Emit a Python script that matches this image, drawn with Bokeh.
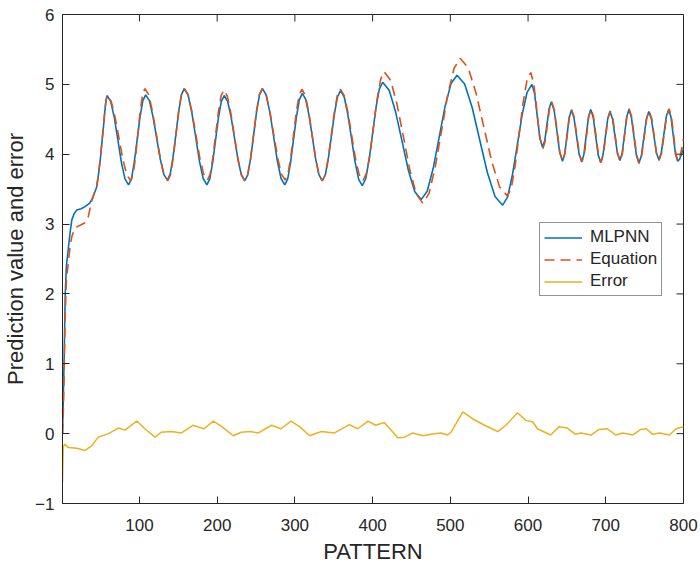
import math
from bokeh.plotting import figure
from bokeh.models import Range1d, FixedTicker, Legend, LegendItem
from bokeh.embed import file_html
from bokeh.resources import INLINE

# ---- data ----
mlpnn_x = [1, 2, 3, 4.5, 6, 8.5, 11, 13, 16, 19.5, 25, 30, 36, 40, 45, 47, 49.5, 51.5, 53.7, 55.5, 57, 58.5,
           63.1, 67.7, 72.3, 76.8, 81.4, 86,
           89.7, 93.3, 97, 100.7, 104.3, 108,
           112.7, 117.3, 122, 126.7, 131.3, 136,
           139.6, 143.2, 146.9, 150.5, 154.1, 157.7,
           162.6, 167.4, 172.3, 177.1, 182, 186.8,
           190.5, 194.2, 197.9, 201.6, 205.3, 209,
           213.4, 217.9, 222.3, 226.7, 231.2, 235.6,
           239.4, 243.2, 247, 250.7, 254.5, 258.3,
           263.1, 267.9, 272.7, 277.4, 282.2, 287,
           290.8, 294.5, 298.3, 302.1, 305.8, 309.6,
           313.9, 318.2, 322.5, 326.7, 331, 335.3,
           339.2, 343.1, 347.1, 351, 354.9, 358.8,
           363.5, 368.1, 372.8, 377.4, 382.1, 386.7,
           391.1, 395.5, 399.9, 404.2, 408.6, 413,
           421.3, 429.5, 437.8, 446, 454.3, 462.5,
           470.2, 477.9, 485.6, 493.2, 500.9, 508.6,
           518.4, 528.2, 537.9, 547.7, 557.5, 567.3,
           573.6, 579.9, 586.2, 592.4, 598.7, 605,
           608.4, 611.8, 615.2, 618.6, 621.5, 624.3, 627.2, 630,
           633.6, 637.2, 640.7, 644.3, 647.2, 650.1, 652.9, 655.8,
           659.1, 662.4, 665.7, 669, 671.9, 674.8, 677.7, 680.6,
           683.8, 687, 690.2, 693.4, 696.4, 699.4, 702.4, 705.4,
           708.6, 711.8, 715, 718.2, 721.1, 724, 726.9, 729.8,
           733, 736.2, 739.4, 742.6, 745.8, 749, 752.2, 755.4,
           758.6, 761.9, 765.1, 768.3, 771.5, 774.7, 777.8, 781,
           783.9, 786.8, 789.6, 792.5, 795, 797.5, 800]
mlpnn_y = [0.0, 0.5, 1.0, 2.0, 2.4, 2.65, 2.9, 3.06, 3.15, 3.2, 3.22, 3.25, 3.3, 3.38, 3.53, 3.68, 3.91, 4.14, 4.39, 4.62, 4.77, 4.84,
           4.754, 4.52, 4.20, 3.88, 3.646, 3.56,
           3.646, 3.883, 4.205, 4.528, 4.764, 4.85,
           4.768, 4.545, 4.24, 3.935, 3.712, 3.63,
           3.718, 3.958, 4.285, 4.613, 4.852, 4.94,
           4.848, 4.595, 4.25, 3.905, 3.652, 3.56,
           3.646, 3.88, 4.20, 4.52, 4.754, 4.84,
           4.758, 4.535, 4.23, 3.925, 3.702, 3.62,
           3.708, 3.95, 4.28, 4.61, 4.852, 4.94,
           4.848, 4.595, 4.25, 3.905, 3.652, 3.56,
           3.648, 3.888, 4.215, 4.543, 4.782, 4.87,
           4.786, 4.558, 4.245, 3.933, 3.704, 3.62,
           3.706, 3.943, 4.265, 4.588, 4.824, 4.91,
           4.819, 4.57, 4.23, 3.89, 3.641, 3.55,
           3.649, 3.92, 4.29, 4.66, 4.931, 5.03,
           4.917, 4.61, 4.19, 3.77, 3.463, 3.35,
           3.469, 3.795, 4.24, 4.685, 5.011, 5.13,
           5.005, 4.665, 4.20, 3.735, 3.395, 3.27,
           3.386, 3.703, 4.135, 4.568, 4.884, 5.0,
           4.869, 4.55, 4.231, 4.10, 4.195, 4.425, 4.655, 4.75,
           4.626, 4.325, 4.024, 3.90, 4.007, 4.265, 4.523, 4.63,
           4.522, 4.26, 3.998, 3.89, 4.0, 4.265, 4.53, 4.64,
           4.529, 4.26, 3.991, 3.88, 3.987, 4.245, 4.503, 4.61,
           4.508, 4.26, 4.012, 3.91, 4.017, 4.275, 4.533, 4.64,
           4.528, 4.255, 3.982, 3.87, 3.978, 4.24, 4.502, 4.61,
           4.509, 4.265, 4.021, 3.92, 4.025, 4.28, 4.535, 4.64,
           4.532, 4.27, 4.008, 3.90, 3.93, 4.0, 4.08]

equation_x = [1, 2, 3, 4.5, 6, 8.5, 11, 13, 16, 19.5, 25, 30, 34, 38.8, 42, 45, 47, 49.5, 51.5, 53.7, 55.5, 57, 58.5,
              63.6, 68.6, 73.7, 78.7, 83.8, 88.8,
              91.8, 94.9, 97.9, 100.9, 104, 107,
              111.9, 116.8, 121.8, 126.7, 131.6, 136.5,
              140, 143.5, 147, 150.5, 154, 157.5,
              162.5, 167.5, 172.5, 177.5, 182.5, 187.5,
              191, 194.5, 198, 201.5, 205, 208.5,
              213, 217.5, 222.1, 226.6, 231.1, 235.6,
              239.3, 243.1, 246.8, 250.5, 254.3, 258,
              262.9, 267.8, 272.8, 277.7, 282.6, 287.5,
              291.1, 294.7, 298.3, 301.8, 305.4, 309,
              313.4, 317.8, 322.2, 326.5, 330.9, 335.3,
              339.2, 343, 346.9, 350.8, 354.6, 358.5,
              363.3, 368.2, 373, 377.8, 382.7, 387.5,
              392.1, 396.7, 401.3, 405.8, 410.4, 415,
              423.3, 431.5, 439.8, 448, 456.3, 464.5,
              472.6, 480.6, 488.7, 496.7, 504.8, 512.8,
              522.9, 533, 543.2, 553.3, 563.4, 573.5,
              578.5, 583.5, 588.5, 593.5, 598.5, 603.5,
              607.4, 611.3, 615.1, 619, 621.9, 624.8, 627.6, 630.5,
              634, 637.5, 641, 644.5, 647.4, 650.3, 653.1, 656,
              659.4, 662.8, 666.1, 669.5, 672.4, 675.3, 678.1, 681,
              684.2, 687.4, 690.6, 693.8, 696.8, 699.8, 702.8, 705.8,
              709, 712.2, 715.3, 718.5, 721.4, 724.3, 727.1, 730,
              733.3, 736.5, 739.8, 743, 746.2, 749.4, 752.6, 755.8,
              759, 762.2, 765.3, 768.5, 771.8, 775, 778.3, 781.5,
              784.4, 787.3, 790.1, 793, 795.5, 798, 800]
equation_y = [0.0, 0.3, 0.8, 1.7, 2.2, 2.45, 2.7, 2.82, 2.92, 2.96, 2.99, 3.02, 3.1, 3.34, 3.45, 3.55, 3.69, 3.93, 4.15, 4.4, 4.62, 4.77, 4.84,
              4.758, 4.535, 4.23, 3.925, 3.702, 3.62,
              3.708, 3.95, 4.28, 4.61, 4.852, 4.94,
              4.852, 4.61, 4.28, 3.95, 3.708, 3.62,
              3.708, 3.95, 4.28, 4.61, 4.852, 4.94,
              4.852, 4.613, 4.285, 3.958, 3.718, 3.63,
              3.716, 3.953, 4.275, 4.598, 4.834, 4.92,
              4.833, 4.595, 4.27, 3.945, 3.707, 3.62,
              3.708, 3.95, 4.28, 4.61, 4.852, 4.94,
              4.852, 4.613, 4.285, 3.958, 3.718, 3.63,
              3.717, 3.955, 4.28, 4.605, 4.843, 4.93,
              4.842, 4.603, 4.275, 3.948, 3.708, 3.62,
              3.708, 3.948, 4.275, 4.603, 4.842, 4.93,
              4.842, 4.603, 4.275, 3.948, 3.708, 3.62,
              3.725, 4.01, 4.40, 4.79, 5.076, 5.18,
              5.054, 4.71, 4.24, 3.77, 3.426, 3.30,
              3.439, 3.818, 4.335, 4.853, 5.231, 5.37,
              5.238, 4.878, 4.385, 3.893, 3.532, 3.40,
              3.519, 3.843, 4.285, 4.728, 5.051, 5.17,
              5.011, 4.625, 4.239, 4.08, 4.178, 4.415, 4.652, 4.75,
              4.626, 4.325, 4.024, 3.90, 4.008, 4.27, 4.532, 4.64,
              4.53, 4.265, 4.0, 3.89, 4.001, 4.27, 4.539, 4.65,
              4.538, 4.265, 3.992, 3.88, 3.988, 4.25, 4.512, 4.62,
              4.515, 4.26, 4.005, 3.90, 4.01, 4.275, 4.54, 4.65,
              4.536, 4.26, 3.984, 3.87, 3.98, 4.245, 4.51, 4.62,
              4.516, 4.265, 4.014, 3.91, 4.018, 4.28, 4.542, 4.65,
              4.54, 4.275, 4.01, 3.90, 3.96, 4.10, 4.22]

error_x = [1, 2, 4, 8.6, 19.5, 30, 38.8, 47, 60, 73, 81.5, 96.5, 107, 120, 128, 141, 154, 169, 183,
           195, 206, 220.6, 231, 242, 253, 270, 282, 295, 306, 319, 334, 351, 370, 381, 394, 404,
           415, 432.5, 441, 451.7, 464.5, 479, 488, 496.7, 501, 516, 529, 544, 561, 571.5, 586.5,
           597, 606, 612, 629, 640, 650.5, 661, 668, 681, 691.5, 702, 713, 721.7, 734.5, 745, 752,
           760.5, 769, 782, 790.5, 800]
error_y = [-0.70, -0.19, -0.15, -0.20, -0.21, -0.24, -0.17, -0.05, 0.0, 0.08, 0.05, 0.18, 0.07, -0.05, 0.02, 0.03, 0.01, 0.12, 0.07,
           0.18, 0.10, -0.03, 0.02, 0.03, 0.01, 0.12, 0.07, 0.18, 0.10, -0.03, 0.03, 0.01, 0.13, 0.07, 0.18, 0.12,
           0.16, -0.06, -0.05, 0.01, -0.03, 0.0, 0.01, -0.02, 0.02, 0.31, 0.21, 0.12, 0.03, 0.12, 0.30,
           0.19, 0.17, 0.07, -0.02, 0.10, 0.08, -0.01, 0.01, -0.02, 0.06, 0.07, -0.02, 0.01, -0.02, 0.06, 0.07,
           -0.01, 0.01, -0.02, 0.07, 0.10]

x_ticks = [100, 200, 300, 400, 500, 600, 700, 800]
y_ticks = [-1, 0, 1, 2, 3, 4, 5, 6]

FONT = "Liberation Sans"
DARK = "#262626"
X0, X1, Y0, Y1 = 1, 800, -1, 6

p = figure(width=700, height=567, x_range=Range1d(X0, X1), y_range=Range1d(Y0, Y1),
           output_backend="svg", toolbar_location=None,
           min_border_left=61, min_border_right=17, min_border_top=14, min_border_bottom=64)
p.xgrid.visible = False
p.ygrid.visible = False
p.outline_line_color = DARK
p.outline_line_width = 1
p.background_fill_color = "white"
p.border_fill_color = "white"

r1 = p.line(mlpnn_x, mlpnn_y, line_color="#0072BD", line_width=1.6)
r2 = p.line(equation_x, equation_y, line_color="#D95319", line_width=1.6, line_dash="10 6")
r3 = p.line(error_x, error_y, line_color="#EDB120", line_width=1.5)

# inward ticks on the top and right edges of the box
p.ray(x=x_ticks, y=[Y1] * len(x_ticks), length=7, length_units="screen",
      angle=-math.pi / 2, line_color=DARK, line_width=1)
p.ray(x=[X1] * len(y_ticks), y=y_ticks, length=7, length_units="screen",
      angle=math.pi, line_color=DARK, line_width=1)

for ax, ticks in ((p.xaxis[0], x_ticks), (p.yaxis[0], y_ticks)):
    ax.ticker = FixedTicker(ticks=ticks)
    ax.major_tick_in = 7
    ax.major_tick_out = 0
    ax.minor_tick_line_color = None
    ax.axis_line_color = DARK
    ax.major_tick_line_color = DARK
    ax.major_label_text_font = FONT
    ax.major_label_text_color = DARK
    ax.major_label_text_font_size = "17px"
    ax.axis_label_text_font = FONT
    ax.axis_label_text_font_size = "22px"
    ax.axis_label_text_font_style = "normal"
    ax.axis_label_text_color = DARK

p.xaxis[0].axis_label = "PATTERN"
p.yaxis[0].axis_label = "Prediction value and error"
p.xaxis[0].major_label_standoff = 15
p.xaxis[0].axis_label_standoff = 5
p.yaxis[0].major_label_standoff = 8
p.yaxis[0].axis_label_standoff = 4

legend = Legend(items=[LegendItem(label="MLPNN", renderers=[r1]),
                       LegendItem(label="Equation", renderers=[r2]),
                       LegendItem(label="Error", renderers=[r3])],
                location=(477, 207))
legend.label_text_font = FONT
legend.label_text_font_size = "17px"
legend.label_text_color = DARK
legend.border_line_color = DARK
legend.border_line_width = 1
legend.background_fill_color = "white"
legend.background_fill_alpha = 1
legend.glyph_width = 38
legend.glyph_height = 19
legend.label_height = 19
legend.spacing = 2
legend.padding = 4
legend.label_standoff = 8
legend.margin = 0
p.add_layout(legend)

open("out.html", "w").write(file_html(p, INLINE))
